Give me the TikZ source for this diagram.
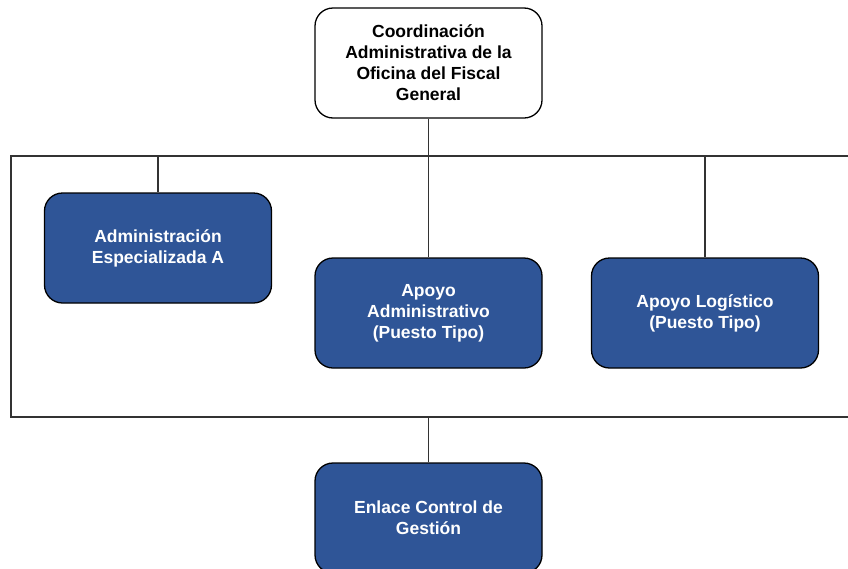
\documentclass[tikz,border=0pt]{standalone}
\usepackage{fontspec}
\setmainfont{Liberation Sans}
\usetikzlibrary{
    calc,       % For coordinate calculations
    positioning % For relative placement
}

\begin{document}
\begin{tikzpicture}[
    x=1pt, y=-1pt,
    unitbox/.style={draw=black, line width=1.3pt, rounded corners=18pt,
        minimum width=227pt, minimum height=110pt, align=center,
        font=\bfseries\fontsize{17.5}{21}\selectfont},
    headbox/.style={unitbox, fill=white, text=black},
    bluebox/.style={unitbox, fill=boxblue, text=white},
    link/.style={line width=1.2pt, draw=black!80}
    ]
    \definecolor{boxblue}{HTML}{2F5597}

    % Page and clipping
    \useasboundingbox (0,0) rectangle (848,568);
    \clip (0,0) rectangle (848,568);

    % Frame around the staff units (open to the right)
    \coordinate (frametl) at (11,156);
    \coordinate (framebl) at (11,417);
    \draw[link] (frametl) rectangle (870,417);

    % Head unit
    \node[headbox] (coord) at (428.5,63) {Coordinación\\Administrativa de la\\Oficina del Fiscal\\General};

    % Units inside the frame
    \node[bluebox] (admesp) at (158,248) {Administración\\Especializada A};
    \node[bluebox] (apoyoadm) at (428.5,313) {Apoyo\\Administrativo\\(Puesto Tipo)};
    \node[bluebox] (apoyolog) at (705,313) {Apoyo Logístico\\(Puesto Tipo)};

    % Unit below the frame
    \node[bluebox] (enlace) at (428.5,518) {Enlace Control de\\Gestión};

    % Connectors
    \draw[link] (coord.south) -- (apoyoadm.north);
    \draw[link] (admesp.north) -- (admesp.north |- frametl);
    \draw[link] (apoyolog.north) -- (apoyolog.north |- frametl);
    \draw[link] (enlace.north) -- (enlace.north |- framebl);

\end{tikzpicture}
\end{document}
